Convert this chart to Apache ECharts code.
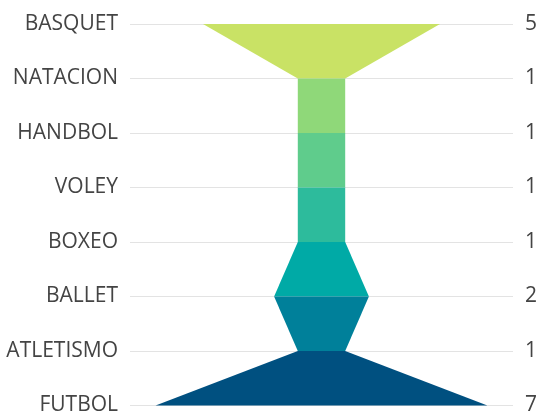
<!DOCTYPE html>
<html><head><meta charset="utf-8">
<script src="https://cdn.jsdelivr.net/npm/echarts@6/dist/echarts.min.js"></script>
<style>html,body{margin:0;padding:0;background:#fff}#c{width:540px;height:416px}</style>
</head><body><div id="c"></div>
<script>
const categories = ['BASQUET','NATACION','HANDBOL','VOLEY','BOXEO','BALLET','ATLETISMO','FUTBOL'];
const values = [5,1,1,1,1,2,1,7];
const colors = ['#c9e265','#8fd879','#5fcc8c','#2dbb9c','#00aaa6','#00809a','#005080'];

const chart = echarts.init(document.getElementById('c'));
const segs = [];
for (let i = 0; i < categories.length - 1; i++) segs.push([i, values[i], values[i+1]]);

chart.setOption({
  animation: false,
  grid: {left: 130, right: 26, top: 24, bottom: 9.3},
  xAxis: {type: 'value', min: -4.04, max: 4.04, show: false},
  yAxis: [
    {type: 'category', data: categories, inverse: true, boundaryGap: false,
     axisLine: {show: false}, axisTick: {show: false},
     axisLabel: {fontFamily: 'Open Sans', fontSize: 21, color: '#444', margin: 12},
     splitLine: {show: true, lineStyle: {color: '#e3e3e3', width: 1}}},
    {type: 'category', data: values.map(String), inverse: true, boundaryGap: false, position: 'right',
     axisLine: {show: false}, axisTick: {show: false},
     axisLabel: {fontFamily: 'Open Sans', fontSize: 21, color: '#444', margin: 12},
     splitLine: {show: false}}
  ],
  series: [{
    type: 'custom',
    data: segs,
    encode: {y: 0},
    renderItem: function (params, api) {
      const i = api.value(0), a = api.value(1), b = api.value(2);
      const p1 = api.coord([-a/2, i]), p2 = api.coord([a/2, i]);
      const p3 = api.coord([b/2, i+1]), p4 = api.coord([-b/2, i+1]);
      return {type: 'polygon', shape: {points: [p1, p2, p3, p4]},
        style: {fill: colors[params.dataIndex]}};
    }
  }]
});
</script></body></html>
